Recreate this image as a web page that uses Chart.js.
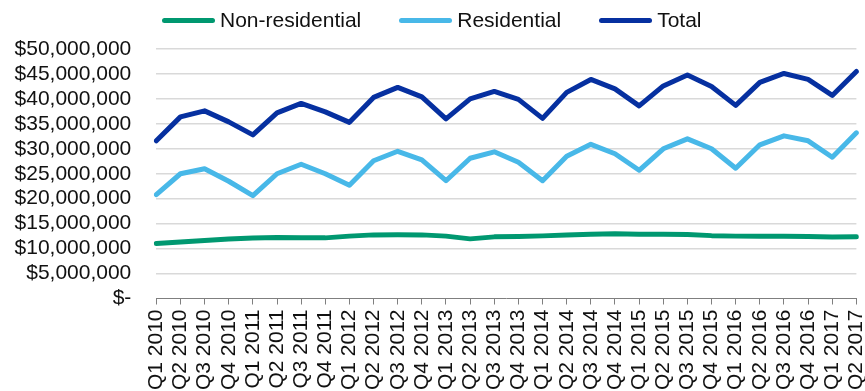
<!DOCTYPE html>
<html>
<head>
<meta charset="utf-8">
<script src="https://cdn.jsdelivr.net/npm/chart.js@4/dist/chart.umd.min.js"></script>
<style>
  html, body { margin: 0; padding: 0; background: #fff; overflow: hidden; }
  #wrap { position: relative; width: 865px; height: 391px; }
  #legend {
    position: absolute; left: 162px; top: 8px;
    display: flex; align-items: center; gap: 38px;
    font: 21px "Liberation Sans", Arial, sans-serif; color: #111;
  }
  .item { display: flex; align-items: center; }
  .swatch { width: 53px; height: 5px; border-radius: 3px; margin-right: 5px; }
</style>
</head>
<body>
<div id="wrap">
  <canvas id="chart" width="865" height="391"></canvas>
  <div id="legend"></div>
</div>
<script>
const QUARTERS = [
  'Q1 2010', 'Q2 2010', 'Q3 2010', 'Q4 2010',
  'Q1 2011', 'Q2 2011', 'Q3 2011', 'Q4 2011',
  'Q1 2012', 'Q2 2012', 'Q3 2012', 'Q4 2012',
  'Q1 2013', 'Q2 2013', 'Q3 2013', 'Q4 2013',
  'Q1 2014', 'Q2 2014', 'Q3 2014', 'Q4 2014',
  'Q1 2015', 'Q2 2015', 'Q3 2015', 'Q4 2015',
  'Q1 2016', 'Q2 2016', 'Q3 2016', 'Q4 2016',
  'Q1 2017', 'Q2 2017',
];

const NON_RESIDENTIAL = [
  11000000, 11300000, 11600000, 11900000, 12100000, 12200000, 12150000, 12150000,
  12500000, 12750000, 12800000, 12750000, 12500000, 11950000, 12350000, 12400000,
  12550000, 12750000, 12900000, 13000000, 12900000, 12900000, 12850000, 12600000,
  12500000, 12450000, 12450000, 12400000, 12300000, 12350000,
];

const RESIDENTIAL = [
  20800000, 25000000, 26000000, 23500000, 20600000, 25000000, 26900000, 25000000,
  22700000, 27600000, 29500000, 27800000, 23600000, 28100000, 29400000, 27300000,
  23600000, 28500000, 30900000, 29000000, 25700000, 30000000, 32000000, 30000000,
  26100000, 30800000, 32600000, 31600000, 28300000, 33200000,
];

const TOTAL = [
  31600000, 36400000, 37600000, 35400000, 32800000, 37200000, 39100000, 37400000,
  35300000, 40300000, 42300000, 40400000, 36000000, 40000000, 41500000, 39900000,
  36100000, 41300000, 43900000, 42000000, 38600000, 42600000, 44800000, 42500000,
  38700000, 43300000, 45100000, 43900000, 40700000, 45500000,
];

const SERIES = [
  { label: 'Non-residential', data: NON_RESIDENTIAL, color: '#009870' },
  { label: 'Residential',     data: RESIDENTIAL,     color: '#48B8E8' },
  { label: 'Total',           data: TOTAL,           color: '#0630A0' },
];

const FONT = '"Liberation Sans", Arial, sans-serif';

// legend row above the plot
const legend = document.getElementById('legend');
SERIES.forEach(s => {
  const item = document.createElement('div');
  item.className = 'item';
  const sw = document.createElement('span');
  sw.className = 'swatch';
  sw.style.background = s.color;
  const txt = document.createElement('span');
  txt.textContent = s.label;
  item.appendChild(sw);
  item.appendChild(txt);
  legend.appendChild(item);
});

function money(v) {
  if (v === 0) return '$-';
  return '$' + v.toLocaleString('en-US');
}

new Chart(document.getElementById('chart'), {
  type: 'line',
  data: {
    labels: QUARTERS,
    datasets: SERIES.map(s => ({
      label: s.label,
      data: s.data,
      borderColor: s.color,
      backgroundColor: s.color,
      borderWidth: 5,
      borderJoinStyle: 'round',
      borderCapStyle: 'round',
      pointRadius: 0,
      tension: 0,
      fill: false,
    })),
  },
  options: {
    responsive: false,
    animation: false,
    layout: { padding: { top: 49, right: 8.6, left: 0, bottom: 0 } },
    plugins: { legend: { display: false }, tooltip: { enabled: false } },
    scales: {
      x: {
        offset: false,
        grid: { drawOnChartArea: false, drawTicks: true, tickLength: 6, color: '#7f7f7f' },
        border: { color: '#7f7f7f', width: 1 },
        ticks: {
          autoSkip: false, minRotation: 90, maxRotation: 90, padding: 5,
          color: '#111', font: { family: FONT, size: 21 },
        },
        afterFit: scale => {
          scale.height = 92.5;
          scale.paddingLeft = 0;
          scale.paddingRight = 0;
        },
      },
      y: {
        min: 0,
        max: 50000000,
        grid: {
          drawTicks: false,
          lineWidth: 1.5,
          color: ctx => ctx.tick && ctx.tick.value === 0 ? 'rgba(0,0,0,0)' : '#d9d9d9',
        },
        border: { display: false },
        ticks: {
          stepSize: 5000000, autoSkip: false, padding: 25, color: '#111',
          font: { family: FONT, size: 21 },
          callback: v => money(v),
        },
        afterFit: scale => {
          scale.width = 156.3;
          scale.paddingTop = 0;
          scale.paddingBottom = 0;
        },
      },
    },
  },
});
</script>
</body>
</html>
